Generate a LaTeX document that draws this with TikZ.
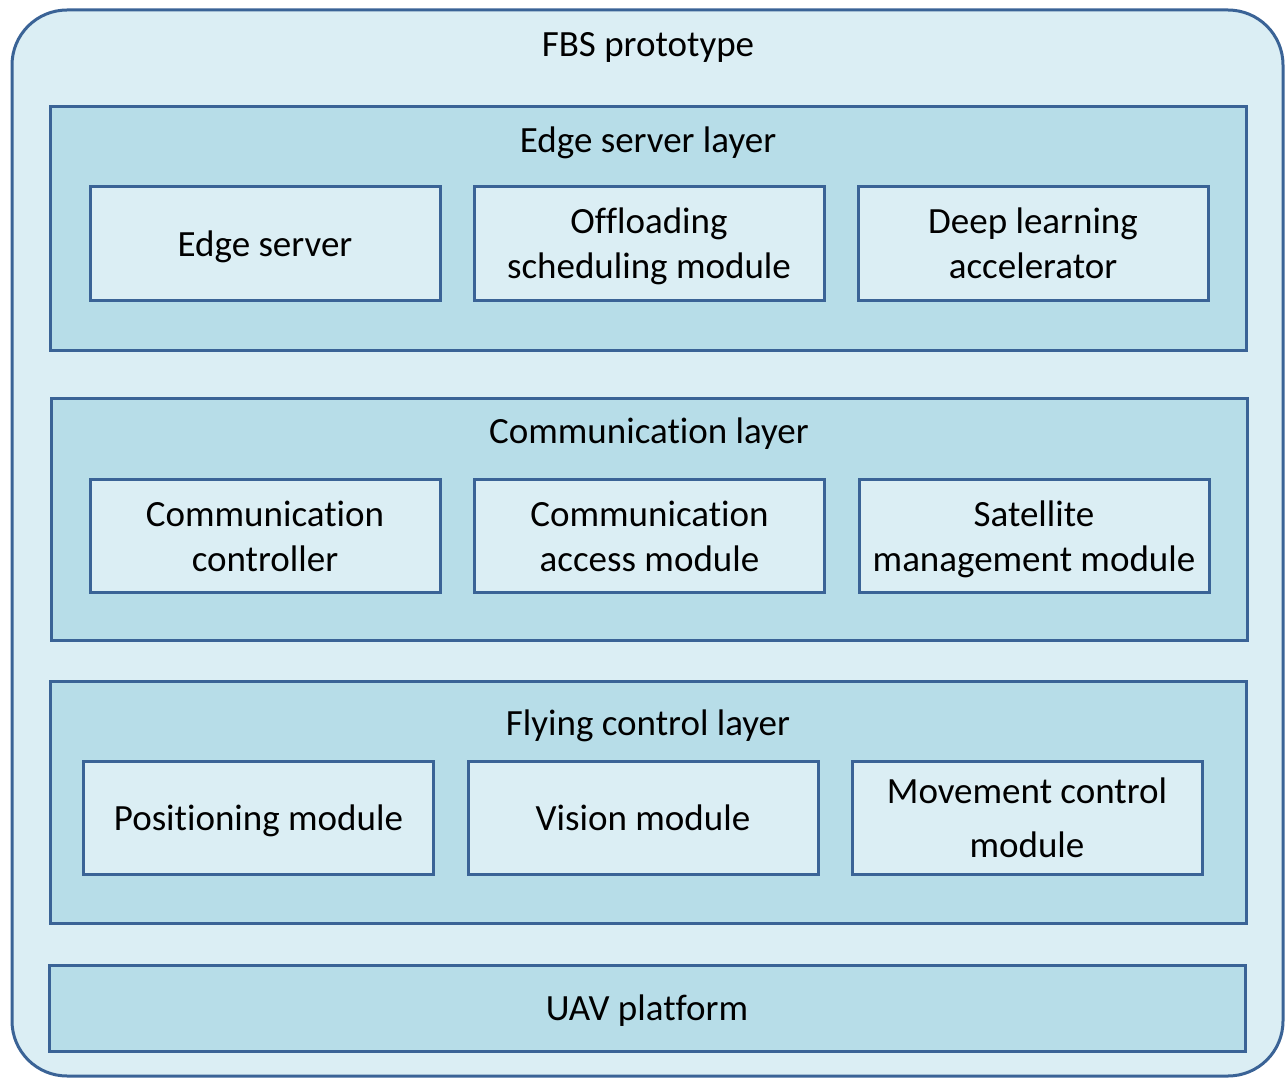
\documentclass[tikz,border=0pt]{standalone}
\usepackage{fontspec}
\setmainfont[Ligatures=NoCommon]{Carlito}
\definecolor{framecol}{RGB}{58,99,150}
\definecolor{palefill}{RGB}{219,238,244}
\definecolor{layerfill}{RGB}{183,221,232}
% line strut: fixes each text line's height and depth so lines centre alike
\newcommand\tstrut{\rule[-10pt]{0pt}{45pt}}
\begin{document}
\begin{tikzpicture}[x=1pt,y=-1pt,
  outerbox/.style={draw=framecol,fill=palefill,line width=3pt,rounded corners=55pt},
  layerbox/.style={draw=framecol,fill=layerfill,line width=3pt,rectangle,
    minimum width=1196pt,inner sep=0pt,outer sep=0pt},
  modbox/.style={draw=framecol,fill=palefill,line width=3pt,rectangle,
    minimum width=350pt,minimum height=113pt,inner sep=0pt,align=center,
    font=\fontsize{37}{45}\selectfont},
  lbl/.style={inner sep=0pt,align=center,font=\fontsize{37}{45}\selectfont}]
\useasboundingbox (0,0) rectangle (1285,1078);

% outer frame of the prototype
\draw[outerbox] (12,10) rectangle (1283,1076);
\node[lbl] (title) at (648,44) {\tstrut FBS prototype};

% edge server layer
\node[layerbox,minimum height=243pt] (edgelayer) at (648,228.5) {};
\node[lbl] (edgetitle) at (648,140) {\tstrut Edge server layer};
\node[modbox] (edgeserver) at (265,243.5) {\tstrut Edge server};
\node[modbox] (offload) at (649,243.5) {\tstrut Offloading\\\tstrut scheduling module};
\node[modbox] (dlacc) at (1033,243.5) {\tstrut Deep learning\\\tstrut accelerator};

% communication layer
\node[layerbox,minimum height=242pt] (commlayer) at (649,519) {};
\node[lbl] (commtitle) at (649,431) {\tstrut Communication layer};
\node[modbox] (commctrl) at (265,536) {\tstrut Communication\\\tstrut controller};
\node[modbox] (commacc) at (649.5,536) {\tstrut Communication\\\tstrut access module};
\node[modbox] (satmgmt) at (1034,536) {\tstrut Satellite\\\tstrut management module};

% flying control layer
\node[layerbox,minimum height=242pt] (flylayer) at (648,802) {};
\node[lbl] (flytitle) at (648,723) {\tstrut Flying control layer};
\node[modbox] (posmod) at (258.5,817.5) {\tstrut Positioning module};
\node[modbox] (vismod) at (643,817.5) {\tstrut Vision module};
\node[modbox,font=\fontsize{37}{54}\selectfont] (movmod) at (1027,817.5) {\tstrut Movement control\\\tstrut module};

% UAV platform
\node[layerbox,minimum height=86pt,font=\fontsize{37}{45}\selectfont] (uav) at (647,1008) {\tstrut UAV platform};
\end{tikzpicture}
\end{document}
